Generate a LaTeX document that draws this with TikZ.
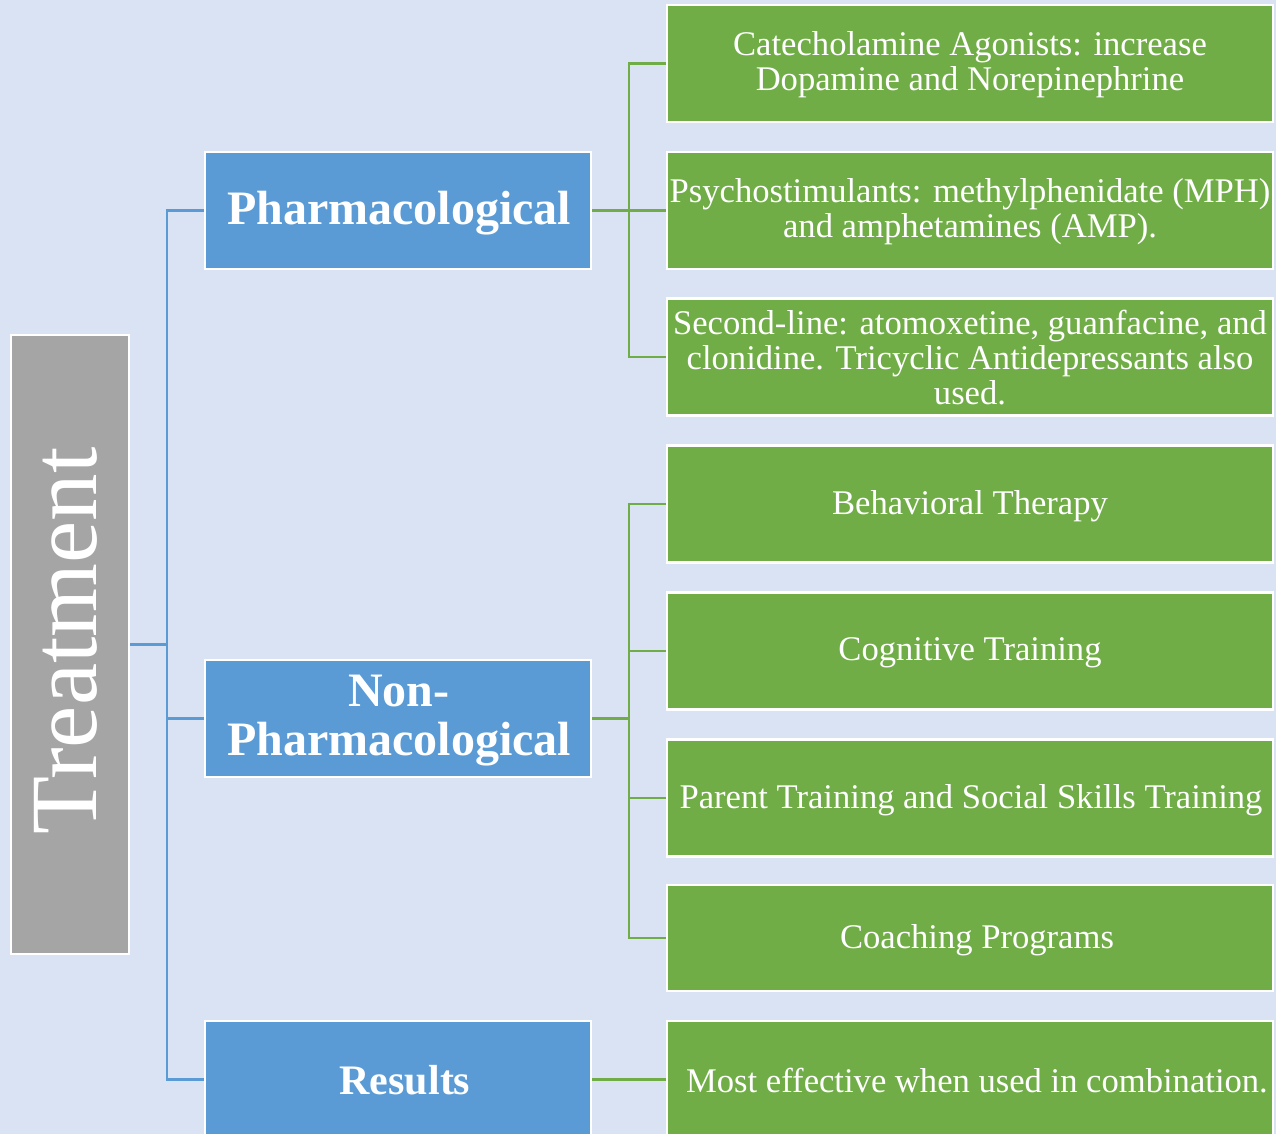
\documentclass[tikz,border=0pt]{standalone}
\usepackage{fontspec}
\setmainfont{Liberation Serif}
\definecolor{bgc}{HTML}{DAE3F3}
\definecolor{grc}{HTML}{A5A5A5}
\definecolor{blc}{HTML}{5B9BD5}
\definecolor{gnc}{HTML}{70AD47}
\begin{document}
\begin{tikzpicture}[x=1pt,y=-1pt,
  rootbox/.style={draw=white,line width=2.5pt,fill=grc,minimum width=118pt,minimum height=619pt,inner sep=0pt},
  bluebox/.style={draw=white,line width=2.5pt,fill=blc,minimum width=386pt,minimum height=117pt,inner sep=0pt},
  greenbox/.style={draw=white,line width=2.5pt,fill=gnc,minimum width=606pt,minimum height=117pt,inner sep=0pt},
  bluetext/.style={text=white,font=\fontsize{48}{49}\selectfont\bfseries,align=center,inner sep=0pt},
  greentext/.style={text=white,font=\fontsize{34.6}{35}\selectfont,align=center,inner sep=0pt},
  bline/.style={draw=blc,line width=2.5pt},
  gline/.style={draw=gnc,line width=2.5pt}]
\useasboundingbox (0,0) rectangle (1276,1134);
\clip (0,0) rectangle (1276,1134);
\fill[bgc] (0,0) rectangle (1276,1134);
% root
\node[rootbox] (T) at (70,644.5) {};
\node[rotate=90,text=white,font=\fontsize{95}{95}\selectfont,inner sep=0pt] (Tt) at (66,641) {Treatment};
% level 1
\node[bluebox] (P) at (398,210.5) {};
\node[bluetext] (Pt) at (399,213) {Pharmacological};
\node[bluebox] (N) at (398,718.5) {};
\node[bluetext] (Nt) at (399,721) {Non-\\Pharmacological};
\node[bluebox] (R) at (398,1079.5) {};
\node[bluetext,font=\fontsize{42}{44}\selectfont\bfseries] (Rt) at (405,1080) {Results};
% level 2
\node[greenbox] (g1) at (970,63.5) {};
\node[greentext] (g1t) at (970,65) {Catecholamine Agonists: increase\\Dopamine and Norepinephrine};
\node[greenbox] (g2) at (970,210.5) {};
\node[greentext] (g2t) at (970,212) {Psychostimulants: methylphenidate (MPH)\\and amphetamines (AMP).};
\node[greenbox] (g3) at (970,357) {};
\node[greentext] (g3t) at (970,358) {Second-line: atomoxetine, guanfacine, and\\clonidine. Tricyclic Antidepressants also\\used.};
\node[greenbox] (g4) at (970,504) {};
\node[greentext] (g4t) at (970,506) {Behavioral Therapy};
\node[greenbox] (g5) at (970,651) {};
\node[greentext] (g5t) at (970,653) {Cognitive Training};
\node[greenbox] (g6) at (970,798) {};
\node[greentext] (g6t) at (971,800) {Parent Training and Social Skills Training};
\node[greenbox,minimum height=106pt] (g7) at (970,938) {};
\node[greentext] (g7t) at (977,940) {Coaching Programs};
\node[greenbox] (g8) at (970,1079.5) {};
\node[greentext] (g8t) at (977,1081) {Most effective when used in combination.};
% connectors
\coordinate (tj) at (167,644.5);
\draw[bline] (T.east) -- (tj);
\draw[bline] (tj) |- (P.west);
\draw[bline] (tj) |- (N.west);
\draw[bline] (tj) |- (R.west);
\coordinate (pj) at (629,210.5);
\draw[gline] (P.east) -- (pj);
\draw[gline] (pj) |- (g1.west);
\draw[gline] (pj) |- (g2.west);
\draw[gline] (pj) |- (g3.west);
\coordinate (nj) at (629,718.5);
\draw[gline] (N.east) -- (nj);
\draw[gline] (nj) |- (g4.west);
\draw[gline] (nj) |- (g5.west);
\draw[gline] (nj) |- (g6.west);
\draw[gline] (nj) |- (g7.west);
\draw[gline] (R.east) -- (g8.west);
\end{tikzpicture}
\end{document}
